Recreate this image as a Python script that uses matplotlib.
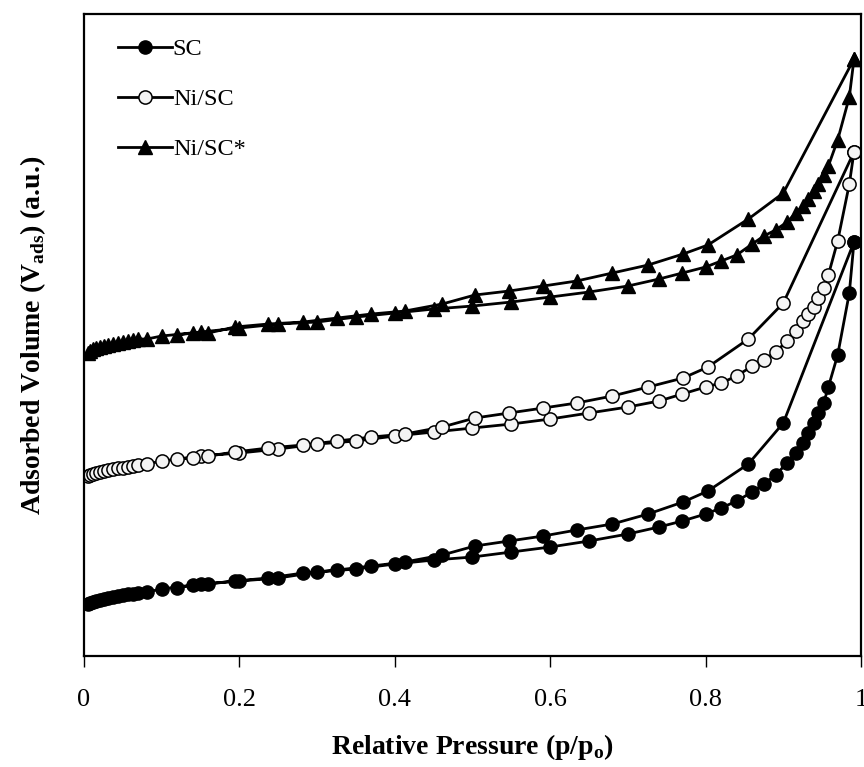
import matplotlib
matplotlib.use("Agg")
import matplotlib.pyplot as plt

plt.rcParams['font.family'] = ['Liberation Serif', 'DejaVu Serif']
plt.rcParams['mathtext.fontset'] = 'custom'
plt.rcParams['mathtext.rm'] = 'Liberation Serif'
plt.rcParams['mathtext.bf'] = 'Liberation Serif:bold'

# relative pressure points (adsorption branch, then desorption branch)
p_ads = [0.005, 0.008, 0.012, 0.016, 0.02, 0.026, 0.031, 0.037, 0.044, 0.05,
         0.057, 0.063, 0.07, 0.081, 0.1, 0.15, 0.2, 0.25, 0.3, 0.35,
         0.4, 0.45, 0.5, 0.55, 0.6, 0.65, 0.7, 0.74, 0.77, 0.8,
         0.82, 0.84, 0.86, 0.875, 0.89, 0.905, 0.916, 0.925, 0.932, 0.94,
         0.945, 0.952, 0.958, 0.97, 0.985, 0.991]
p_des = [0.991, 0.9, 0.855, 0.803, 0.771, 0.726, 0.68, 0.634, 0.591, 0.547,
         0.503, 0.461, 0.413, 0.37, 0.326, 0.282, 0.237, 0.194, 0.16, 0.14, 0.12]

# adsorbed volume (a.u., curves offset for clarity)
sc_ads = [52, 53, 54, 55, 56, 57, 58, 59, 60, 61,
          62, 62, 63, 64, 67, 72, 75, 78, 84, 87,
          92, 96, 99, 104, 109, 115, 122, 129, 135, 142,
          148, 155, 164, 172, 181, 193, 203, 213, 223, 233,
          243, 253, 269, 301, 363, 414]
sc_des = [414, 233, 192, 165, 154, 142, 132, 126, 120, 115,
          110, 101, 94, 90, 86, 83, 78, 75, 72, 71, 68]

nisc_ads = [180, 181, 182, 183, 184, 185, 186, 187, 188, 188,
            189, 190, 191, 192, 195, 200, 203, 207, 212, 215,
            220, 224, 228, 232, 237, 243, 249, 255, 262, 269,
            273, 280, 290, 296, 304, 315, 325, 335, 342, 349,
            358, 368, 381, 415, 472, 504]
nisc_des = [504, 353, 317, 289, 278, 269, 260, 253, 248, 243,
            238, 229, 222, 219, 215, 211, 208, 204, 200, 198, 197]

niscs_ads = [303, 305, 307, 308, 309, 310, 311, 312, 313, 314,
             315, 316, 317, 317, 320, 324, 328, 332, 334, 339,
             343, 347, 350, 354, 359, 364, 370, 377, 383, 389,
             395, 401, 412, 420, 426, 434, 443, 450, 457, 465,
             472, 481, 490, 516, 559, 597]
niscs_des = [597, 463, 437, 411, 402, 391, 383, 375, 370, 365,
             361, 352, 345, 342, 338, 334, 332, 329, 323, 323, 321]

fig = plt.figure(figsize=(8.64, 7.67), dpi=100)
ax = fig.add_axes([0.0972, 0.1447, 0.8993, 0.837])

ax.plot(p_ads + p_des, sc_ads + sc_des, '-o', color='black', lw=2,
        markersize=9.5, markerfacecolor='black', markeredgecolor='black', label='SC')
ax.plot(p_ads + p_des, nisc_ads + nisc_des, '-o', color='black', lw=2,
        markersize=9.5, markerfacecolor='#f4f4f4', markeredgecolor='black',
        markeredgewidth=1.1, label='Ni/SC')
ax.plot(p_ads + p_des, niscs_ads + niscs_des, '-^', color='black', lw=2,
        markersize=10, markerfacecolor='black', markeredgecolor='black', label='Ni/SC*')

ax.set_xlim(0, 1)
ax.set_ylim(0, 642)
ax.set_xticks([0, 0.2, 0.4, 0.6, 0.8, 1])
ax.set_xticklabels(['0', '0.2', '0.4', '0.6', '0.8', '1'])
ax.set_yticks([])
ax.tick_params(axis='x', direction='out', length=8, width=1, pad=16, labelsize=19)
for s in ax.spines.values():
    s.set_linewidth(1.6)

ax.set_xlabel(r'Relative Pressure (p/p$_{\mathbf{o}}$)', fontsize=20, fontweight='bold', labelpad=15)
ax.set_ylabel(r'Adsorbed Volume (V$_{\mathbf{ads}}$) (a.u.)', fontsize=20, fontweight='bold', labelpad=26)

ax.legend(loc='upper left', bbox_to_anchor=(0.044, 0.962), frameon=False, fontsize=17.5,
          handlelength=2.2, handletextpad=0.05, labelspacing=1.15, borderaxespad=0, borderpad=0)

fig.savefig('out.png', dpi=100)
